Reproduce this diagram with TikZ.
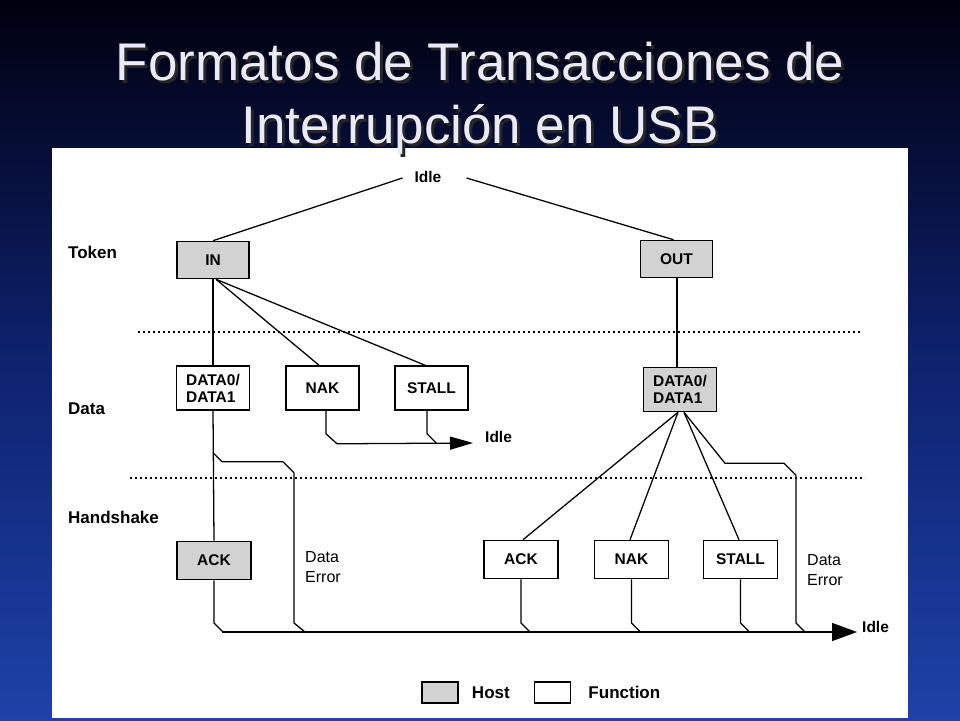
\documentclass[tikz,border=0pt]{standalone}
\usepackage{fontspec}
\setmainfont{Liberation Sans}
\usetikzlibrary{calc,arrows.meta,positioning}
\definecolor{slidetop}{RGB}{0,0,14}
\definecolor{slidemid}{RGB}{14,34,110}
\definecolor{slidebot}{RGB}{30,66,168}
\definecolor{hostgray}{RGB}{210,210,210}
\definecolor{titlewhite}{RGB}{234,234,250}
\def\busdrop[#1](#2)(#3){\draw[#1] (#2) -- ($(#2 |- bus)+(0,-9)$) -- ($(#2 |- bus)+(#3,0)$);}

\begin{document}
\begin{tikzpicture}[x=1pt, y=-1pt,
	wire/.style={line width=0.45mm},
	sep/.style={line width=0.5mm, dash pattern=on 2pt off 3pt},
	box/.style={draw, line width=0.55mm, inner sep=0pt, font=\fontsize{15.5}{17}\selectfont\bfseries},
	host/.style={box, fill=hostgray},
	func/.style={box, fill=white},
	tokensz/.style={minimum width=72pt, minimum height=37pt},
	datasz/.style={minimum width=73pt, minimum height=44pt, align=left},
	hssz/.style={minimum width=74pt, minimum height=38pt},
	lane/.style={inner sep=0pt, font=\fontsize{17}{20}\selectfont\bfseries},
	note/.style={inner sep=0pt, align=left, font=\fontsize{16}{20}\selectfont},
	titletext/.style={anchor=base, inner sep=0pt, text=titlewhite, font=\fontsize{53}{63}\selectfont},
	titleshadow/.style={titletext, text=black!85}]
		%%%%% START %%%%%
		\useasboundingbox (0,0) rectangle (960,720);
		\shade[top color=slidetop, bottom color=slidebot, middle color=slidemid] (0,0) rectangle (960,720);
		\fill[white] (52,148) rectangle (908,718);
		
		\node[titleshadow] (title1s) at (483,83) {Formatos de Transacciones de};
		\node[titletext] (title1) at (480,80) {Formatos de Transacciones de};
		\node[titleshadow] (title2s) at (483,146) {Interrupción en USB};
		\node[titletext] (title2) at (480,143) {Interrupción en USB};
		
		\draw[sep] (138,332) -- (862,332);
		\draw[sep] (130,478) -- (865,478);
		
		\node[lane, anchor=west] (tokenlbl) at (68,252) {Token};
		\node[lane, anchor=west] (datalbl) at (68,409) {Data};
		\node[lane, anchor=west] (handlbl) at (68,517) {Handshake};
		
		\node[lane, font=\fontsize{15.5}{17}\selectfont\bfseries] (idleT) at (428,177) {Idle};
		\node[host, tokensz] (in) at (213,260) {IN};
		\node[host, tokensz] (out) at (676.5,259) {OUT};
		
		\node[func, datasz] (dataL) at (213,388) {DATA0/\\DATA1};
		\node[func, datasz] (nakL) at (322.5,388) {NAK};
		\node[func, datasz] (stallL) at (431.5,388) {STALL};
		\node[host, datasz] (dataR) at (680,389.5) {DATA0/\\DATA1};
		\node[lane, anchor=west, font=\fontsize{15.5}{17}\selectfont\bfseries] (idleA) at (485,437) {Idle};
		
		\node[host, hssz] (ackL) at (214,560.5) {ACK};
		\node[func, hssz] (ackR) at (521,559.5) {ACK};
		\node[func, hssz] (nakR) at (631.5,559.5) {NAK};
		\node[func, hssz] (stallR) at (740.5,559.5) {STALL};
		\node[note, anchor=west] (errlblL) at (305,567) {Data\\Error};
		\node[note, anchor=west] (errlblR) at (807,570) {Data\\Error};
		\node[lane, anchor=west, font=\fontsize{15.5}{17}\selectfont\bfseries] (idleB) at (862,627) {Idle};
		
		\node[host, minimum width=36pt, minimum height=21pt] (hostkey) at (440,692.5) {};
		\node[lane, right=13pt of hostkey] (hostlbl) {Host};
		\node[func, minimum width=36pt, minimum height=21pt] (funckey) at (552.5,692.5) {};
		\node[lane, right=17pt of funckey] (funclbl) {Function};
		
		% token
		\draw[wire] (in.north) -- ([xshift=-12pt,yshift=-1pt]idleT.west);
		\draw[wire] ([xshift=25pt,yshift=-1pt]idleT.east) -- ([xshift=-3pt]out.north);
		\draw[wire] (in.south) -- (dataL.north);
		\draw[wire] ([xshift=3pt]in.south) -- ([xshift=-3.5pt]nakL.north);
		\draw[wire] ([xshift=3pt]in.south) -- ([xshift=-6.5pt]stallL.north);
		\draw[wire] ([xshift=0.5pt]out.south) -- ([xshift=0.5pt]out.south |- dataR.north);
		
		% data
		\draw[wire, -{Triangle[length=23pt, width=13pt]}] ([xshift=3.5pt]nakL.south) -- ++(0,23) -- ++(11,10) -- ([xshift=-12pt,yshift=-6pt]idleA.west);
		\draw[wire] ([xshift=-4.5pt]stallL.south) -- ++(0,23) -- ++(10,10);
		\draw[wire] (dataL.south) -- (ackL.south |- ackL.north);
		\draw[wire] ($(dataL.south)+(0,42)$) -- ++(9,9) -- ++(61,0) -- ++(11,11) coordinate (errL);
		\draw[wire] ([xshift=-2pt]dataR.south) -- ([xshift=2pt]ackR.north);
		\draw[wire] ([xshift=-2pt]dataR.south) -- ([xshift=-1.5pt]nakR.north);
		\draw[wire] ([xshift=4pt]dataR.south) -- ([xshift=-1.5pt]stallR.north);
		\draw[wire] ([xshift=4pt]dataR.south) -- ++(41,51) -- ++(59,0) -- ++(12,12) coordinate (errR);
		
		% handshake
		\coordinate (bus) at (222,632);
		\draw[wire, -{Triangle[length=25pt, width=18pt]}] (bus) -- ([xshift=-5pt]idleB.west |- bus);
		\busdrop[wire](ackL.south)(9)
		\busdrop[wire](errL)(11)
		\busdrop[wire](ackR.south)(9)
		\busdrop[wire](nakR.south)(9)
		\busdrop[wire](stallR.south)(9)
		\busdrop[wire](errR)(9)
		%%%%% END %%%%%
\end{tikzpicture}
\end{document}
